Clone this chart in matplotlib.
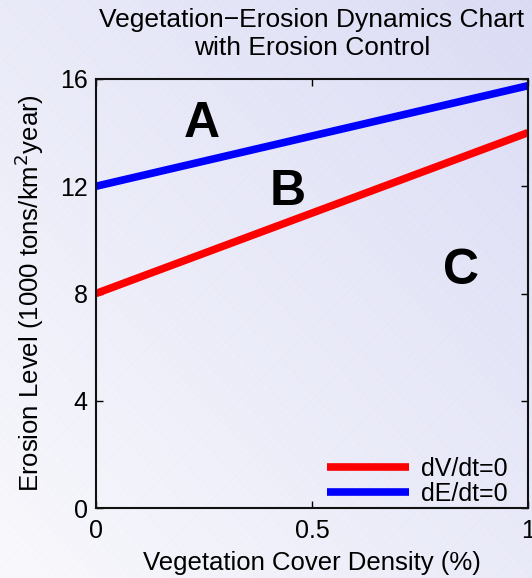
import numpy as np
import matplotlib.pyplot as plt

plt.rcParams['font.family'] = ['Liberation Sans', 'DejaVu Sans']

# nullcline end points
veg_x = [0, 1]
dv_dt_zero = [8, 14]
de_dt_zero = [12, 15.75]

x_ticks = [0, 0.5, 1]
x_tick_labels = ['0', '0.5', '1']
y_ticks = [0, 4, 8, 12, 16]

regions = ['A', 'B', 'C']
region_x = [0.244, 0.443, 0.844]
region_y = [13.85, 11.3, 8.35]

fig = plt.figure(figsize=(5.32, 5.78), dpi=100)

# background gradient (white bottom-left -> lavender top-right)
bg = fig.add_axes([0, 0, 1, 1], zorder=-10)
h, w = 578, 532
yy, xx = np.mgrid[0:h, 0:w]
t = (xx / w + (h - yy) / h) / 2
c0 = np.array([0.975, 0.975, 0.99])
c1 = np.array([0.86, 0.865, 0.96])
img = c0 + (c1 - c0) * t[..., None]
stripes = ((xx + yy) % 9 < 1) * 0.012
img = np.clip(img - stripes[..., None], 0, 1)
bg.imshow(img, aspect='auto', interpolation='bilinear')
bg.axis('off')

ax = fig.add_axes([96 / 532, 70 / 578, 432 / 532, 429 / 578])
ax.patch.set_alpha(0)

ax.plot(veg_x, dv_dt_zero, color='#ff0000', lw=5.5, label='dV/dt=0', solid_capstyle='butt')
ax.plot(veg_x, de_dt_zero, color='#0000ff', lw=5.5, label='dE/dt=0', solid_capstyle='butt')

for lab, px, py in zip(regions, region_x, region_y):
    ax.text(px, py, lab, fontsize=36, fontweight='bold', ha='center', va='baseline')

ax.set_xlim(0, 1)
ax.set_ylim(0, 16)
ax.set_xticks(x_ticks)
ax.set_xticklabels(x_tick_labels)
ax.set_yticks(y_ticks)
ax.tick_params(direction='in', top=True, right=True, labelsize=18, length=5, width=1, pad=6)
ax.tick_params(axis='x', pad=8)
for s in ax.spines.values():
    s.set_linewidth(1.5)
    s.set_color('#111111')

ax.set_xlabel('Vegetation Cover Density (%)', fontsize=18.5, labelpad=6)
ax.set_ylabel('Erosion Level (1000 tons/km$^2$year)', fontsize=18.5, labelpad=10)
ax.set_title('Vegetation\u2212Erosion Dynamics Chart\nwith Erosion Control', fontsize=19, pad=17,
             linespacing=1.25)

ax.legend(loc='lower right', bbox_to_anchor=(0.972, -0.016), frameon=False, fontsize=18,
          handlelength=3.3, handletextpad=0.45, borderaxespad=0.0, borderpad=0.35,
          labelspacing=0.05)

fig.savefig('out.png', dpi=100)
